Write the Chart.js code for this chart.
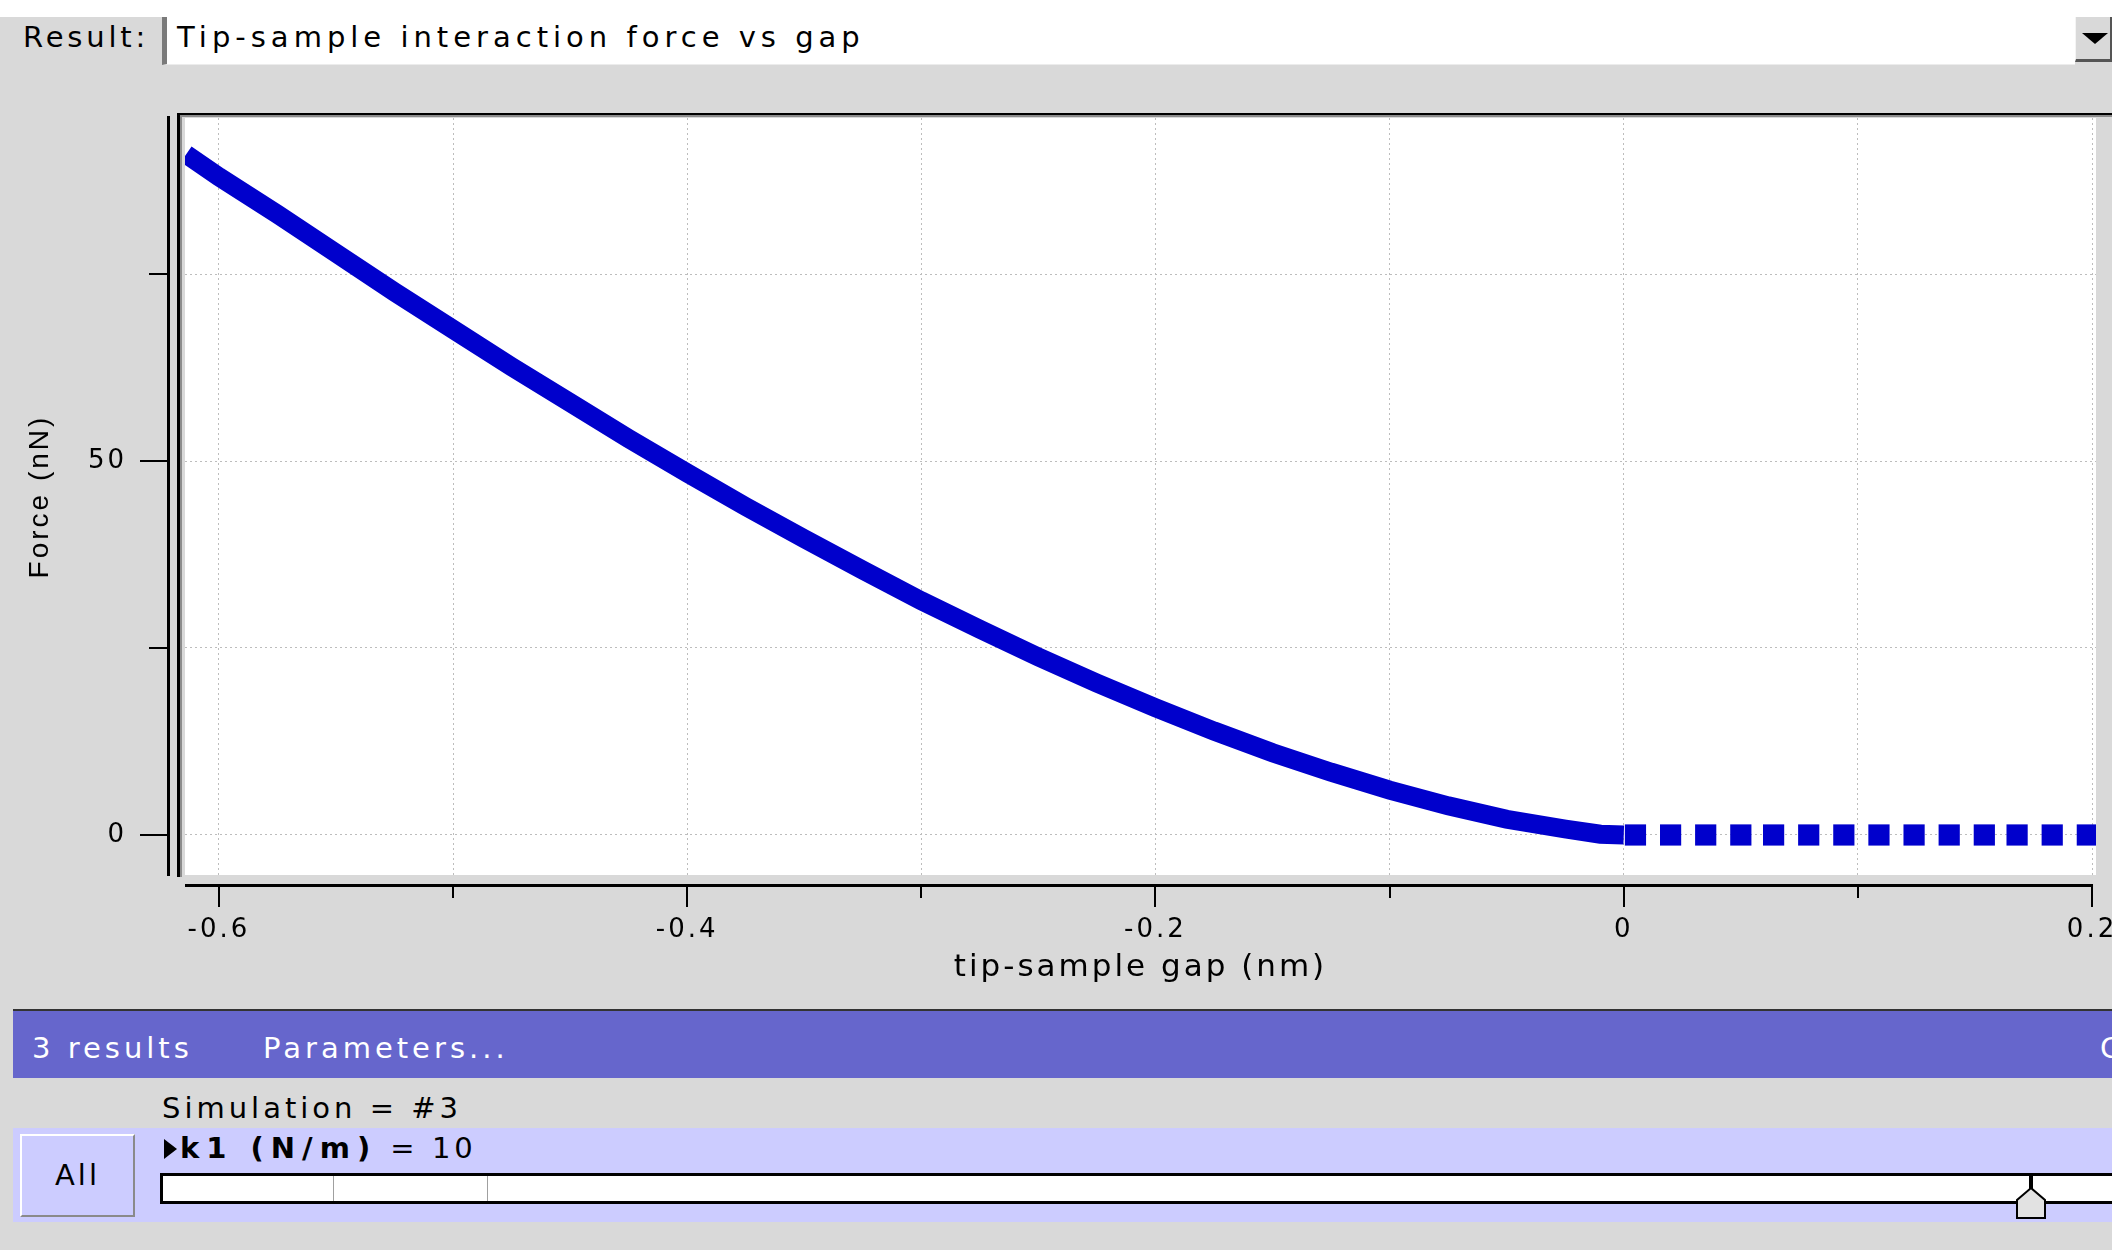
<!DOCTYPE html>
<html>
<head>
<meta charset="utf-8">
<script src="https://cdn.jsdelivr.net/npm/chart.js@4.4.0/dist/chart.umd.min.js"></script>
<style>
body { margin: 0; width: 2112px; height: 1250px; background: #d9d9d9; overflow: hidden; position: relative; font-family: "DejaVu Sans", sans-serif; color: #000; }
.abs { position: absolute; }
.txt { position: absolute; font-size: 29px; line-height: 34px; letter-spacing: 4px; white-space: nowrap; }
#topStrip { left: 0; top: 0; width: 2112px; height: 17px; background: #fff; }
#field { left: 162px; top: 17px; width: 1913px; height: 48px; background: #fff; border-left: 5px solid #7a7a7a; box-sizing: border-box; border-bottom: 1px solid #ececec; }
#dropBtn { left: 2075px; top: 17px; width: 37px; height: 45px; background: #d9d9d9; box-sizing: border-box; border-right: 2px solid #555; border-bottom: 3px solid #555; border-left: 1px solid #f4f4f4; }
#dropArrow { left: 2082px; top: 33px; width: 0; height: 0; border-left: 13px solid transparent; border-right: 13px solid transparent; border-top: 11px solid #000; }
#chartBox { left: 0; top: 66px; width: 2112px; height: 934px; }
#purpleBar { left: 13px; top: 1009px; width: 2099px; height: 69px; background: #6666cc; border-top: 2px solid #333; box-sizing: border-box; }
#lightBar { left: 13px; top: 1128px; width: 2099px; height: 94px; background: #ccccff; }
#allBtn { left: 20px; top: 1134px; width: 115px; height: 83px; background: #ccccff; box-sizing: border-box; border: 2px solid; border-color: #fff #8a8a8a #8a8a8a #fff; }
#tri { left: 164px; top: 1139px; width: 0; height: 0; border-top: 10px solid transparent; border-bottom: 10px solid transparent; border-left: 13px solid #000; }
#track { left: 160px; top: 1173px; width: 2000px; height: 31px; background: #fff; box-sizing: border-box; border: 3px solid #000; border-right: none; }
.mark { top: 1176px; width: 1px; height: 25px; background: #a0a0a0; }
</style>
</head>
<body>
<div id="topStrip" class="abs"></div>
<div class="txt" style="left:23px; top:20px; letter-spacing:3.8px;">Result:</div>
<div id="field" class="abs"></div>
<div class="txt" style="left:177px; top:20px; letter-spacing:5px;">Tip-sample interaction force vs gap</div>
<div id="dropBtn" class="abs"></div>
<div id="dropArrow" class="abs"></div>

<div id="chartBox" class="abs"><canvas id="forceChart" width="2112" height="934"></canvas></div>

<div id="purpleBar" class="abs"></div>
<div class="txt" style="left:32px; top:1031px; color:#fff;">3 results</div>
<div class="txt" style="left:263px; top:1031px; color:#fff;">Parameters...</div>
<div class="txt" style="left:2100px; top:1031px; color:#fff;">Clear</div>
<div class="txt" style="left:162px; top:1091px;">Simulation = #3</div>
<div id="lightBar" class="abs"></div>
<div id="allBtn" class="abs"></div>
<div class="txt" style="left:55px; top:1158px; letter-spacing:3px;">All</div>
<div id="tri" class="abs"></div>
<div class="txt" style="left:180px; top:1131px;"><b style="letter-spacing:7px;">k1 (N/m)</b> = 10</div>
<div id="track" class="abs"></div>
<div class="abs mark" style="left:333px;"></div>
<div class="abs mark" style="left:487px;"></div>
<svg class="abs" style="left:2010px; top:1170px;" width="44" height="52">
  <rect x="19" y="5" width="4" height="20" fill="#000"/>
  <polygon points="7,48 7,30 21,18 35,30 35,48" fill="#e2e2e2" stroke="#000" stroke-width="2"/>
</svg>

<script>
// gap (nm) and force (nN)
const gapContact = [-0.614, -0.6, -0.575, -0.55, -0.525, -0.5, -0.475, -0.45, -0.425, -0.4,
    -0.375, -0.35, -0.325, -0.3, -0.275, -0.25, -0.225, -0.2, -0.175, -0.15,
    -0.125, -0.1, -0.075, -0.05, -0.025, -0.01, 0];
const forceContact = [91.0, 88.0, 83.0, 77.8, 72.6, 67.6, 62.6, 57.8, 53.0, 48.4,
    43.9, 39.6, 35.4, 31.3, 27.5, 23.8, 20.3, 17.0, 13.9, 11.0,
    8.4, 6.0, 3.9, 2.1, 0.8, 0.1, 0];
const gapFree = [0.005, 0.020, 0.035, 0.050, 0.064, 0.079, 0.094, 0.109, 0.124, 0.139,
    0.154, 0.168, 0.183, 0.198];
const forceFree = [0, 0, 0, 0, 0, 0, 0, 0, 0, 0, 0, 0, 0, 0];

const xTicks = [-0.6, -0.5, -0.4, -0.3, -0.2, -0.1, 0, 0.1, 0.2];
const xLabelled = [-0.6, -0.4, -0.2, 0, 0.2];
const yTicks = [0, 25, 50, 75];
const yLabelled = [0, 50];

const blue = "#0000cc";

function toPoints(xs, ys) {
    return xs.map((x, i) => ({ x: x, y: ys[i] }));
}

function isLabelled(list, v) {
    return list.some((l) => Math.abs(l - v) < 1e-9);
}

function fixedFit(size, prop) {
    return function (scale) {
        scale[prop] = size;
        scale.paddingLeft = 0;
        scale.paddingRight = 0;
        scale.paddingTop = 0;
        scale.paddingBottom = 0;
    };
}

const framePlugin = {
    id: "frame",
    beforeDraw(chart) {
        const ctx = chart.ctx;
        const a = chart.chartArea;
        ctx.letterSpacing = "3px";
        ctx.fillStyle = "#ffffff";
        ctx.fillRect(a.left, a.top, a.right - a.left, a.bottom - a.top);
    },
    afterDraw(chart) {
        const ctx = chart.ctx;
        const a = chart.chartArea;
        const xs = chart.scales.x;
        const ys = chart.scales.y;
        ctx.save();
        ctx.letterSpacing = "0px";

        // sunken frame round the plot
        ctx.fillStyle = "#000";
        ctx.fillRect(a.left - 8, a.top - 5, chart.width - a.left + 8, 2);
        ctx.fillRect(a.left - 8, a.top - 5, 3, a.bottom - a.top + 7);
        ctx.fillStyle = "#8c8c8c";
        ctx.fillRect(a.left - 5, a.top - 3, chart.width - a.left + 5, 2);
        ctx.fillRect(a.left - 5, a.top - 3, 2, a.bottom - a.top + 5);

        // y axis line and ticks
        ctx.fillStyle = "#000";
        ctx.fillRect(a.left - 18, a.top - 2, 3, a.bottom - a.top + 3);
        yTicks.forEach((v) => {
            const py = Math.round(ys.getPixelForValue(v));
            const len = isLabelled(yLabelled, v) ? 28 : 19;
            ctx.fillRect(a.left - 17 - len, py - 1, len, 2);
        });

        // x axis line and ticks
        const xEnd = xs.getPixelForValue(0.2);
        ctx.fillRect(a.left, a.bottom + 9, xEnd - a.left + 1, 3);
        xTicks.forEach((v) => {
            const px = Math.round(xs.getPixelForValue(v));
            const len = isLabelled(xLabelled, v) ? 22 : 13;
            ctx.fillRect(px - 1, a.bottom + 10, 2, len);
        });
        ctx.restore();
        ctx.letterSpacing = "0px";
    }
};

const ctx = document.getElementById("forceChart").getContext("2d");

new Chart(ctx, {
    type: "scatter",
    data: {
        datasets: [
            {
                data: toPoints(gapContact, forceContact),
                showLine: true,
                borderColor: blue,
                borderWidth: 19,
                borderJoinStyle: "miter",
                pointRadius: 0,
                tension: 0,
                fill: false,
            },
            {
                data: toPoints(gapFree, forceFree),
                showLine: false,
                pointStyle: "rect",
                pointRadius: 15,
                backgroundColor: blue,
                borderWidth: 0,
            },
        ],
    },
    options: {
        responsive: false,
        animation: false,
        events: [],
        layout: {
            autoPadding: false,
            padding: { top: 52, right: 16, bottom: 0, left: 0 },
        },
        plugins: {
            legend: { display: false },
            tooltip: { enabled: false },
        },
        scales: {
            x: {
                type: "linear",
                min: -0.6145,
                max: 0.2017,
                afterFit: fixedFit(125, "height"),
                afterBuildTicks: (scale) => { scale.ticks = xTicks.map((v) => ({ value: v })); },
                grid: { color: "#bdbdbd", lineWidth: 1, drawTicks: false },
                border: { display: false, dash: [2, 3] },
                ticks: {
                    padding: 40,
                    maxRotation: 0,
                    autoSkip: false,
                    color: "#000",
                    font: { family: "DejaVu Sans", size: 26 },
                    callback: (v) => (isLabelled(xLabelled, v) ? String(Math.round(v * 10) / 10) : ""),
                },
                title: {
                    display: true,
                    text: "tip-sample gap (nm)",
                    color: "#000",
                    font: { family: "DejaVu Sans", size: 31 },
                    padding: { top: 0, bottom: 13 },
                },
            },
            y: {
                type: "linear",
                min: -5.35,
                max: 95.86,
                afterFit: fixedFit(185, "width"),
                afterBuildTicks: (scale) => { scale.ticks = yTicks.map((v) => ({ value: v })); },
                grid: { color: "#bdbdbd", lineWidth: 1, drawTicks: false },
                border: { display: false, dash: [2, 3] },
                ticks: {
                    padding: 58,
                    autoSkip: false,
                    color: "#000",
                    font: { family: "DejaVu Sans", size: 26 },
                    callback: (v) => (isLabelled(yLabelled, v) ? String(v) : ""),
                },
                title: {
                    display: true,
                    text: "Force (nN)",
                    color: "#000",
                    font: { family: "Liberation Sans", size: 28 },
                    padding: { top: 23, bottom: 0 },
                },
            },
        },
    },
    plugins: [framePlugin],
});
</script>
</body>
</html>
